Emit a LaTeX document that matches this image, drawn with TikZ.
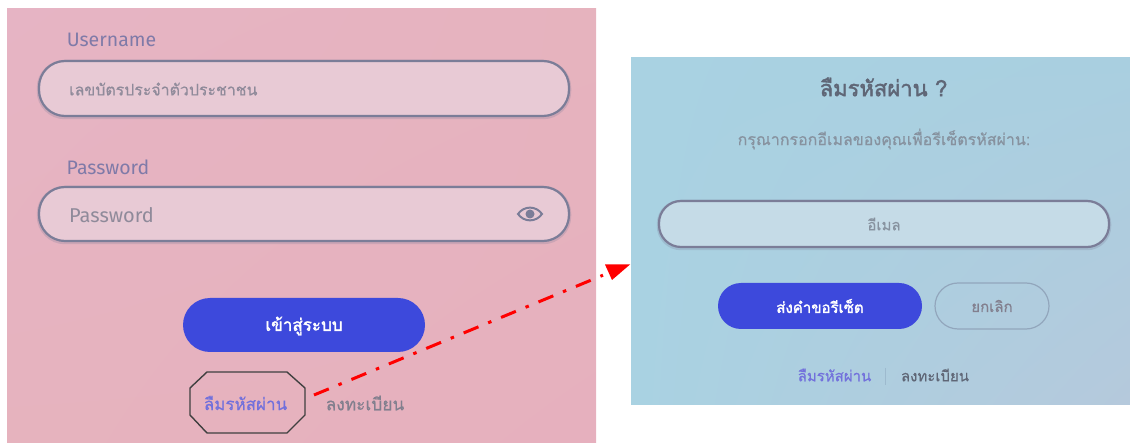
\documentclass[tikz,border=0pt]{standalone}
\usepackage{fontspec}
\setmainfont{Fira Sans}
\newfontfamily\thaimid[Script=Thai,FakeBold=0.5]{Loma}
\newfontfamily\thaibold[Script=Thai,FakeBold=1.8]{Loma}
\usetikzlibrary{shadings}
\definecolor{pinkA}{HTML}{E6B4C4}
\definecolor{pinkB}{HTML}{E6B3BE}
\definecolor{pinkC}{HTML}{E6B0BE}
\definecolor{blueA}{HTML}{A9D2E2}
\definecolor{blueB}{HTML}{A9CFE0}
\definecolor{blueC}{HTML}{B5C9DC}
\definecolor{labelc}{HTML}{7F7AA8}
\definecolor{fieldfill}{HTML}{E8CAD5}
\definecolor{fieldline}{HTML}{7B7D98}
\definecolor{holder}{HTML}{8F8A9A}
\definecolor{btn}{HTML}{3D49DC}
\definecolor{linkc}{HTML}{7270DC}
\definecolor{greyt}{HTML}{827F8E}
\definecolor{bfield}{HTML}{C5DBE7}
\definecolor{headc}{HTML}{5F6676}
\definecolor{subc}{HTML}{87929F}
\tikzset{
  labeltxt/.style={anchor=center,inner sep=0pt,text=labelc,font=\fontsize{19.5}{20}\selectfont},
  thaitxt/.style={anchor=center,inner sep=0pt},
  softedge/.style={draw=fieldline,opacity=0.25,line width=4.5pt},
  fieldbox/.style={draw=fieldline,line width=2.2pt,fill=fieldfill,rounded corners=26pt},
  bluefield/.style={draw=fieldline,line width=2.2pt,fill=bfield,rounded corners=22pt},
  btnbox/.style={fill=btn,rounded corners=24pt},
  dashdot/.style={draw=red,line width=3pt,dash pattern=on 16pt off 10.5pt on 3.5pt off 10.5pt},
}
\begin{document}
\begin{tikzpicture}[x=1pt,y=-1pt]
\useasboundingbox (0,0) rectangle (1130,443);
% panels
\shade[upper left=pinkA,upper right=pinkB,lower left=pinkB,lower right=pinkC] (7,9) rectangle (596,443);
\shade[upper left=blueA,upper right=blueB,lower left=blueA,lower right=blueC] (631,58) rectangle (1130,405);
% left form
\node[labeltxt] (ulabel) at (111.5,40) {Username};
\draw[softedge,rounded corners=26pt] (39,62) rectangle (569,117);
\draw[fieldbox] (39,61) rectangle (569,116);
\node[thaitxt,text=holder,font=\thaimid\fontsize{15.9}{20}\selectfont,anchor=west] (uhold) at (69,89) {เลขบัตรประจำตัวประชาชน};
\node[labeltxt] (plabel) at (108,167) {Password};
\draw[softedge,rounded corners=26pt] (39,188) rectangle (569,242);
\draw[fieldbox] (39,187) rectangle (569,241);
\node[thaitxt,text=holder,font=\fontsize{20}{20}\selectfont,anchor=west] (phold) at (69,215) {Password};
% eye icon
\draw[draw=fieldline,line width=2pt] (518,214) .. controls (524,205.5) and (536,205.5) .. (542,214) .. controls (536,222.5) and (524,222.5) .. (518,214) -- cycle;
\fill[fieldline] (530,214) circle (4.5pt);
\fill[btnbox,rounded corners=27pt] (183,298) rectangle (425,352);
\node[thaitxt,text=white,font=\thaibold\fontsize{17}{20}\selectfont] (login) at (304,326) {เข้าสู่ระบบ};
% octagon
\node[thaitxt,text=linkc,font=\thaimid\fontsize{17}{20}\selectfont] (forgot) at (245.5,403) {ลืมรหัสผ่าน};
\draw[draw=black!75,line width=1.4pt] (207,372) -- (287,372) -- (305,388) -- (305,415) -- (287,433) -- (207,433) -- (190,415) -- (190,388) -- cycle;
\node[thaitxt,text=greyt,font=\thaimid\fontsize{17.3}{20}\selectfont] (reg) at (365,403) {ลงทะเบียน};
% right form
\node[thaitxt,text=headc,font=\thaibold\fontsize{22}{24}\selectfont] (title) at (883.5,87) {ลืมรหัสผ่าน ?};
\node[thaitxt,text=subc,font=\thaimid\fontsize{16}{20}\selectfont] (sub) at (884,139) {กรุณากรอกอีเมลของคุณเพื่อรีเซ็ตรหัสผ่าน:};
\draw[softedge,rounded corners=22pt] (659,202) rectangle (1109,248);
\draw[bluefield] (659,201) rectangle (1109,247);
\node[thaitxt,text=subc,font=\thaimid\fontsize{15}{20}\selectfont] (email) at (884,224) {อีเมล};
\fill[btnbox,rounded corners=23pt] (718,283) rectangle (922,329);
\node[thaitxt,text=white,font=\thaibold\fontsize{15}{20}\selectfont] (send) at (820,306) {ส่งคำขอรีเซ็ต};
\draw[draw=fieldline!50!blueB,line width=1.2pt,rounded corners=23pt] (935,283) rectangle (1049,329);
\node[thaitxt,text=greyt,font=\thaimid\fontsize{15}{20}\selectfont] (cancel) at (992,306) {ยกเลิก};
\node[thaitxt,text=linkc,font=\thaimid\fontsize{15}{20}\selectfont] (forgotb) at (834.5,375) {ลืมรหัสผ่าน};
\draw[draw=fieldline!25!blueB,line width=0.8pt] (885,368) -- (885,385);
\node[thaitxt,text=headc,font=\thaimid\fontsize{15}{20}\selectfont] (regb) at (935,375) {ลงทะเบียน};
% connector
\coordinate (astart) at (314,395);
\coordinate (aend) at (603,275.2);
\coordinate (atip) at (630,264.5);
\draw[dashdot] (astart) -- (aend);
\fill[red] (atip) -- (605,264.5) -- (612,280) -- cycle;
\end{tikzpicture}
\end{document}
